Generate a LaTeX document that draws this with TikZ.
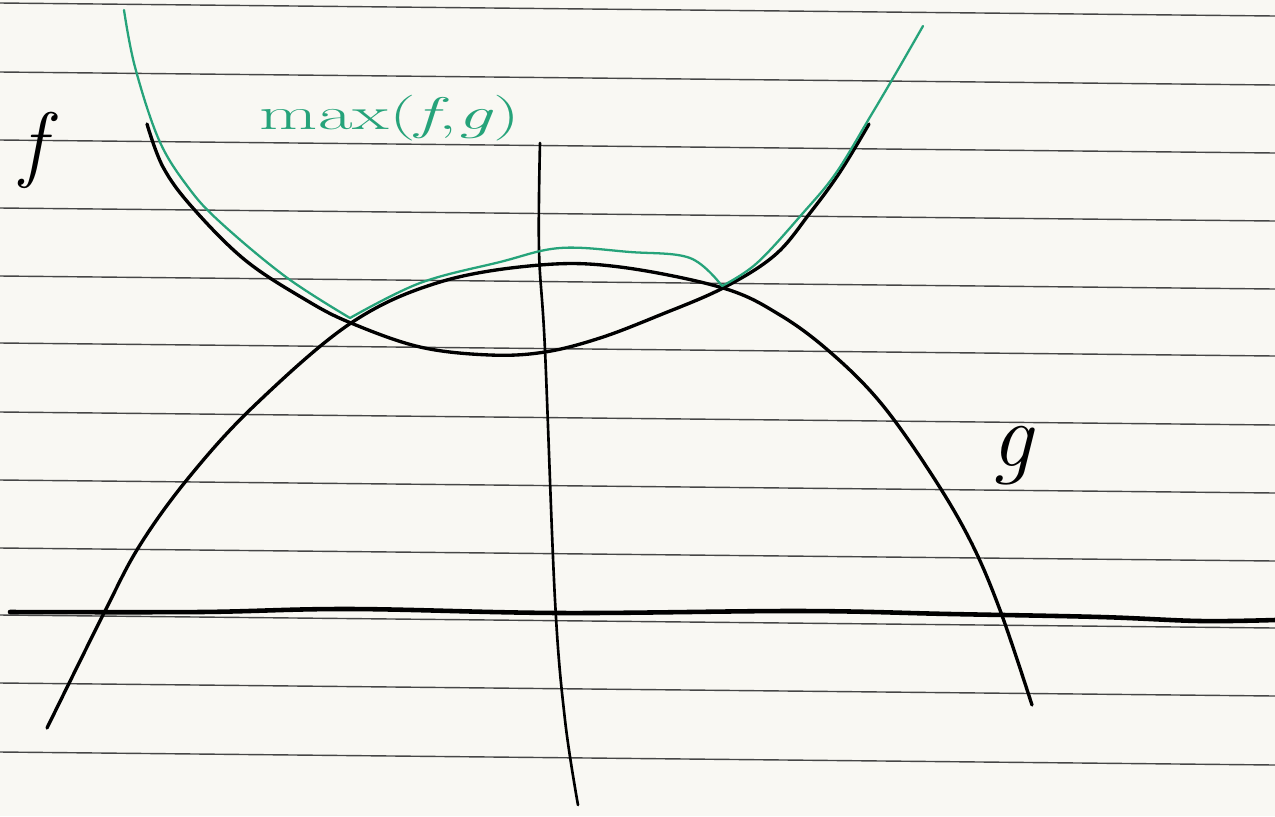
\documentclass[tikz,border=0pt]{standalone}
\usepackage{tikz}
\usetikzlibrary{positioning}
\definecolor{paper}{RGB}{249,248,243}
\definecolor{ruling}{RGB}{70,70,70}
\definecolor{maxgreen}{RGB}{38,163,122}
\begin{document}
\begin{tikzpicture}[x=0.02cm,y=-0.02cm,
  ruleline/.style={draw=ruling,line width=0.8pt},
  curve/.style={draw=black,line width=1.9pt,line cap=round,line join=round},
  maxcurve/.style={draw=maxgreen,line width=1.3pt,line cap=round,line join=miter},
  axisline/.style={draw=black,line cap=round},
  handlabel/.style={inner sep=0pt},
]
  \fill[paper] (0,0) rectangle (1275,816);
  \useasboundingbox (0,0) rectangle (1275,816);

  % ruled paper
  \foreach \y in {3,72,140,208,276,343,412,480,548,615,683,752}
    \draw[ruleline] (0,\y) -- (1275,\y+13);

  % axes
  \draw[axisline,line width=2.6pt] plot[smooth,tension=0.6] coordinates
    {(10,612) (200,612) (350,609) (560,613) (800,611) (950,614) (1100,617) (1200,621) (1275,620)};
  \draw[axisline,line width=1.5pt] plot[smooth,tension=0.6] coordinates
    {(540,143) (539,250) (545,350) (555,600) (565,720) (578,805)};

  % f and g
  \draw[curve] plot[smooth,tension=0.6] coordinates
    {(147,124) (163,167) (192,207) (245,260) (306,300) (351,323) (420,347) (490,355)
     (545,352) (600,338) (660,315) (723,288) (775,255) (810,213) (840,172) (869,124)};
  \draw[curve] plot[smooth,tension=0.6] coordinates
    {(47,728) (104,613) (140,545) (190,476) (255,405) (351,323) (440,282) (540,265)
     (620,267) (723,288) (780,315) (830,352) (880,402) (930,472) (970,540) (1000,610) (1032,705)};

  % max(f,g)
  \draw[maxcurve] plot[smooth,tension=0.6] coordinates
    {(124,10) (135,67) (159,140) (188,187) (220,222) (286,277) (350,318)}
    plot[smooth,tension=0.6] coordinates
    {(350,318) (420,283) (500,262) (560,248) (630,252) (690,258) (722,286)}
    plot[smooth,tension=0.6] coordinates
    {(722,286) (757,263) (803,213) (836,173) (870,117) (896,73) (923,26)};

  % labels
  \node[handlabel] (flabel) at (33,150) {\fontsize{48}{50}\selectfont\itshape f};
  \node[handlabel] (glabel) at (1012,456) {\fontsize{52}{54}\selectfont\itshape g};
  \node[handlabel,text=maxgreen] (maxlabel) at (390,118)
    {\fontsize{26}{28}\selectfont\scalebox{1.65}[1]{max(\textit{f},\textit{g})}};
\end{tikzpicture}
\end{document}
